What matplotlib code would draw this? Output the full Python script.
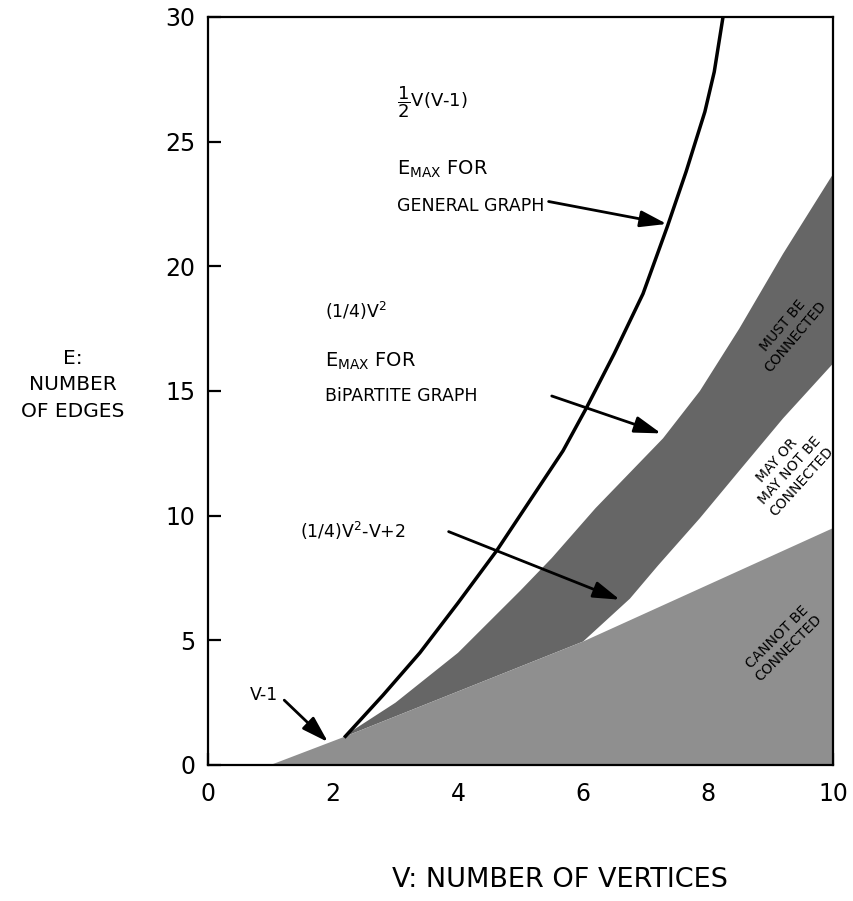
import numpy as np
import matplotlib.pyplot as plt

plt.rcParams['font.family'] = ['DejaVu Sans']
plt.rcParams['mathtext.fontset'] = 'dejavusans'

# E_max for a general graph
v_general = [2.18, 2.8, 3.39, 4.0, 4.62, 5.15, 5.68, 6.05, 6.5, 6.96,
             7.35, 7.65, 7.95, 8.1, 8.24]
e_general = [1.1, 2.8, 4.5, 6.5, 8.6, 10.6, 12.6, 14.3, 16.5, 18.9,
             21.6, 23.8, 26.2, 27.8, 30.0]

# upper edge of the dark band (bipartite max)
v_bip_upper = [2.2, 3.0, 4.0, 5.0, 5.5, 6.2, 7.28, 7.87, 8.5, 9.2, 10.0]
e_bip_upper = [1.2, 2.5, 4.5, 7.0, 8.3, 10.3, 13.1, 15.0, 17.5, 20.5, 23.7]

# lower edge of the dark band above V = 6
v_mixed_lower = [6.0, 6.75, 7.2, 7.87, 8.5, 9.2, 10.0]
e_mixed_lower = [4.95, 6.67, 8.0, 9.9, 11.8, 13.9, 16.1]

# V-1 line, top of the light grey region
v_tree = [1.0, 2.15, 6.0, 10.0]
e_tree = [0.0, 1.1, 4.95, 9.5]

dark = '#666666'
light = '#8f8f8f'

fig = plt.figure(figsize=(8.54, 9.01), dpi=100)
ax = fig.add_axes([208/854, 1-765/901, (833-208)/854, (765-17)/901])

# dark band: upper edge, then lower edge back (V-1 below 6, the other curve above)
lower_v = v_tree[1:3] + v_mixed_lower[1:]
lower_e = e_tree[1:3] + e_mixed_lower[1:]
ax.fill(v_bip_upper + lower_v[::-1], e_bip_upper + lower_e[::-1],
        color=dark, lw=0, zorder=1)

# light grey region under V-1
ax.fill(v_tree + [v_tree[-1], v_tree[0]], e_tree + [0, 0],
        color=light, lw=0, zorder=2)

ax.plot(v_general, e_general, color='black', lw=2.5, zorder=3,
        solid_capstyle='butt', solid_joinstyle='round')

ax.set_xlim(0, 10)
ax.set_ylim(0, 30)
ax.set_xticks(range(0, 11, 2))
ax.set_yticks(range(0, 31, 5))
ax.tick_params(direction='in', length=9, width=1.6, labelsize=17)
ax.tick_params(axis='x', pad=12)
ax.tick_params(axis='y', pad=9)
for s in ax.spines.values():
    s.set_linewidth(1.6)

fs = 12.5
arrow = dict(arrowstyle='-|>,head_length=0.9,head_width=0.28', lw=2,
             color='black', mutation_scale=18, shrinkA=0, shrinkB=0)

# general graph
ax.text(3.02, 26.6, r'$\dfrac{1}{2}$V(V-1)', fontsize=fs + 0.5, va='center')
ax.text(3.02, 23.9, r'E$_{\rm MAX}$ FOR', fontsize=fs + 1.5, va='center')
ax.text(3.02, 22.4, 'GENERAL GRAPH', fontsize=fs, va='center')
ax.annotate('', xy=(7.34, 21.7), xytext=(5.45, 22.6), arrowprops=arrow,
            zorder=4)

# bipartite graph
ax.text(1.87, 18.2, r'(1/4)V$^2$', fontsize=fs, va='center')
ax.text(1.87, 16.2, r'E$_{\rm MAX}$ FOR', fontsize=fs + 1.5, va='center')
ax.text(1.87, 14.8, 'BiPARTITE GRAPH', fontsize=fs, va='center')
ax.annotate('', xy=(7.25, 13.3), xytext=(5.5, 14.8), arrowprops=arrow,
            zorder=4)

# lower bound of the connected band
ax.text(1.47, 9.4, r'(1/4)V$^2$-V+2', fontsize=fs, va='center')
ax.annotate('', xy=(6.59, 6.63), xytext=(3.85, 9.36), arrowprops=arrow,
            zorder=4)

# V-1
ax.text(0.67, 2.8, 'V-1', fontsize=fs, va='center')
ax.annotate('', xy=(1.92, 0.92), xytext=(1.22, 2.6), arrowprops=arrow,
            zorder=4)

# region labels
ax.text(9.3, 17.4, 'MUST BE\nCONNECTED', fontsize=10, rotation=50,
        ha='center', va='center', multialignment='center', zorder=5)
ax.text(9.3, 11.8, 'MAY OR\nMAY NOT BE\nCONNECTED', fontsize=10, rotation=48,
        ha='center', va='center', multialignment='center', zorder=5)
ax.text(9.2, 4.9, 'CANNOT BE\nCONNECTED', fontsize=10, rotation=45,
        ha='center', va='center', multialignment='center', zorder=5)

fig.text(73/854, 1-385/901, 'E:\nNUMBER\nOF EDGES', fontsize=14.5,
         ha='center', va='center', multialignment='center', linespacing=1.5)
fig.text(560/854, 1-880/901, 'V: NUMBER OF VERTICES', fontsize=19.5,
         ha='center', va='center')

fig.savefig('out.png', dpi=100)
